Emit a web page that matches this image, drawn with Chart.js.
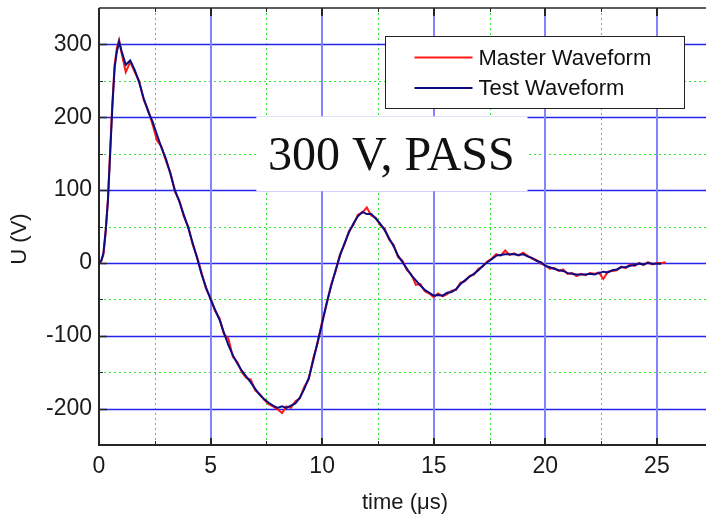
<!DOCTYPE html>
<html>
<head>
<meta charset="utf-8">
<script src="https://cdn.jsdelivr.net/npm/chart.js@4.4.0/dist/chart.umd.min.js"></script>
<style>
  body { margin: 0; background: #fff; }
</style>
</head>
<body>
<canvas id="myChart" width="706" height="516"></canvas>
<script>
// time axis (microseconds)
var timeUs = [
  0, 0.1, 0.2, 0.3, 0.4, 0.5, 0.6, 0.7, 0.8, 0.9, 1.0,
  1.2, 1.4, 1.6, 1.8, 2, 2.2, 2.4, 2.6, 2.8, 3,
  3.2, 3.4, 3.6, 3.8, 4, 4.2, 4.4, 4.6, 4.8, 5,
  5.2, 5.4, 5.6, 5.8, 6, 6.2, 6.4, 6.6, 6.8, 7,
  7.2, 7.4, 7.6, 7.8, 8, 8.2, 8.4, 8.6, 8.8, 9,
  9.2, 9.4, 9.6, 9.8, 10, 10.2, 10.4, 10.6, 10.8, 11,
  11.2, 11.4, 11.6, 11.8, 12, 12.2, 12.4, 12.6, 12.8, 13,
  13.2, 13.4, 13.6, 13.8, 14, 14.2, 14.4, 14.6, 14.8, 15,
  15.2, 15.4, 15.6, 15.8, 16, 16.2, 16.4, 16.6, 16.8, 17,
  17.2, 17.4, 17.6, 17.8, 18, 18.2, 18.4, 18.6, 18.8, 19,
  19.2, 19.4, 19.6, 19.8, 20, 20.2, 20.4, 20.6, 20.8, 21,
  21.2, 21.4, 21.6, 21.8, 22, 22.2, 22.4, 22.6, 22.8, 23,
  23.2, 23.4, 23.6, 23.8, 24, 24.2, 24.4, 24.6, 24.8, 25,
  25.2, 25.4
];

// U (V)
var masterU = [
  0, 2, 12, 42, 88, 155, 220, 272, 295, 306, 290,
  262, 276, 262, 250, 224, 210, 190, 168, 160, 140,
  124, 98, 86, 64, 50, 25, 8, -14, -36, -48,
  -66, -76, -98, -104, -129, -136, -150, -158, -160, -175,
  -180, -188, -194, -197, -201, -206, -197, -199, -190, -186,
  -170, -160, -131, -110, -80, -57, -30, -12, 12, 25,
  44, 52, 66, 69, 76, 65, 62, 52, 47, 32,
  25, 8, 3, -10, -16, -30, -29, -39, -42, -47,
  -42, -46, -43, -38, -37, -27, -25, -18, -16, -8,
  -5, 2, 6, 12, 10, 17, 11, 13, 10, 14,
  10, 6, 4, -1, -3, -8, -7, -11, -9, -15,
  -14, -18, -15, -17, -14, -15, -13, -22, -12, -11,
  -10, -5, -7, -2, -4, 0, -3, 1, -2, 0,
  0, 1
];

var testU = [
  0, 3, 14, 45, 85, 150, 215, 268, 290, 304, 292,
  272, 278, 265, 248, 226, 208, 194, 176, 158, 143,
  122, 100, 84, 66, 48, 27, 6, -16, -34, -50,
  -64, -78, -96, -113, -127, -138, -148, -156, -164, -173,
  -181, -187, -192, -196, -199, -197, -199, -196, -193, -185,
  -173, -158, -134, -108, -83, -55, -32, -10, 10, 27,
  42, 54, 64, 70, 67, 67, 61, 54, 45, 34,
  23, 10, 1, -8, -17, -24, -31, -37, -41, -45,
  -44, -45, -41, -40, -36, -29, -24, -19, -15, -10,
  -4, 1, 5, 10, 11, 12, 12, 12, 11, 12,
  9, 7, 3, 1, -4, -6, -8, -10, -11, -14,
  -15, -16, -16, -16, -15, -16, -14, -12, -13, -10,
  -9, -6, -6, -4, -3, -1, -2, 0, -1, -1,
  -1, null
];

var seriesNames = ['Master Waveform', 'Test Waveform'];
var xTicks = [0, 5, 10, 15, 20, 25];
var xMinor = [2.5, 7.5, 12.5, 17.5, 22.5];
var yTicks = [-200, -100, 0, 100, 200, 300];
var yMinor = [-150, -50, 50, 150, 250];
var noteText = '300 V, PASS';

var sans = 'Liberation Sans, Arial, sans-serif';

function toPoints(vals) {
  var pts = [];
  for (var i = 0; i < timeUs.length; i++) {
    if (vals[i] !== null) pts.push({x: timeUs[i], y: vals[i]});
  }
  return pts;
}

function seg(ctx, x0, y0, x1, y1) {
  ctx.beginPath();
  ctx.moveTo(x0, y0);
  ctx.lineTo(x1, y1);
  ctx.stroke();
}

var frame = {
  id: 'frame',
  beforeDatasetsDraw: function(chart) {
    var ctx = chart.ctx, a = chart.chartArea, x = chart.scales.x, y = chart.scales.y;
    ctx.save();
    // dotted minor grid
    ctx.strokeStyle = '#2ee82e';
    ctx.lineWidth = 1;
    ctx.setLineDash([2, 3]);
    xMinor.forEach(function(v) {
      var px = Math.round(x.getPixelForValue(v)) + 0.5;
      seg(ctx, px, a.top, px, a.bottom);
    });
    yMinor.forEach(function(v) {
      var py = Math.round(y.getPixelForValue(v)) + 0.5;
      seg(ctx, a.left, py, a.right, py);
    });
    ctx.setLineDash([]);
    // major grid
    ctx.strokeStyle = '#2424ee';
    ctx.lineWidth = 1.3;
    yTicks.forEach(function(v) {
      var py = Math.round(y.getPixelForValue(v)) + 0.5;
      seg(ctx, a.left, py, a.right, py);
    });
    ctx.strokeStyle = '#8484ff';
    ctx.lineWidth = 2;
    xTicks.forEach(function(v) {
      if (v === 0) return;
      var px = Math.round(x.getPixelForValue(v));
      seg(ctx, px, a.top, px, a.bottom);
    });
    ctx.restore();
  },
  afterDatasetsDraw: function(chart) {
    var ctx = chart.ctx, a = chart.chartArea, x = chart.scales.x, y = chart.scales.y;
    ctx.save();
    // note with white background
    var bx0 = x.getPixelForValue(7.05), bx1 = x.getPixelForValue(19.2);
    var by0 = y.getPixelForValue(201), by1 = y.getPixelForValue(98.5);
    ctx.fillStyle = '#fff';
    ctx.fillRect(bx0, by0, bx1 - bx0, by1 - by0);
    ctx.fillStyle = '#111';
    ctx.font = '48px "Liberation Serif", "Times New Roman", serif';
    ctx.textAlign = 'center';
    ctx.textBaseline = 'alphabetic';
    ctx.fillText(noteText, x.getPixelForValue(13.1), y.getPixelForValue(128));

    // axes
    ctx.strokeStyle = '#262626';
    ctx.lineWidth = 2;
    seg(ctx, a.left, a.top, a.left, a.bottom + 1);
    seg(ctx, a.left, a.bottom, a.right, a.bottom);
    ctx.lineWidth = 1.5;
    seg(ctx, a.left, a.top, a.right, a.top);
    // ticks
    xTicks.forEach(function(v) {
      var px = Math.round(x.getPixelForValue(v));
      ctx.lineWidth = 2;
      seg(ctx, px, a.bottom, px, a.bottom - 7);
      seg(ctx, px, a.top, px, a.top + 8);
    });
    xMinor.forEach(function(v) {
      var px = Math.round(x.getPixelForValue(v)) + 0.5;
      ctx.lineWidth = 1;
      seg(ctx, px, a.bottom, px, a.bottom - 4);
      seg(ctx, px, a.top, px, a.top + 4);
    });
    yTicks.forEach(function(v) {
      var py = Math.round(y.getPixelForValue(v)) + 0.5;
      ctx.lineWidth = 1.5;
      seg(ctx, a.left, py, a.left + 8, py);
    });
    yMinor.forEach(function(v) {
      var py = Math.round(y.getPixelForValue(v)) + 0.5;
      ctx.lineWidth = 1;
      seg(ctx, a.left, py, a.left + 4, py);
    });

    // legend
    var lx = a.left + 286.5, ly = a.top + 28.5, lw = 299, lh = 72;
    ctx.fillStyle = '#fff';
    ctx.fillRect(lx, ly, lw, lh);
    ctx.strokeStyle = '#222';
    ctx.lineWidth = 1;
    ctx.strokeRect(lx, ly, lw, lh);
    ctx.font = '22px ' + sans;
    ctx.textAlign = 'left';
    ctx.textBaseline = 'middle';
    chart.data.datasets.forEach(function(ds, i) {
      var rowY = ly + 21 + i * 30.5;
      ctx.strokeStyle = ds.borderColor;
      ctx.lineWidth = 2;
      seg(ctx, lx + 29, rowY, lx + 87, rowY);
      ctx.fillStyle = '#111';
      ctx.fillText(ds.label, lx + 93, rowY + 1);
    });

    // axis titles
    ctx.fillStyle = '#1a1a1a';
    ctx.font = '22px ' + sans;
    ctx.textAlign = 'center';
    ctx.textBaseline = 'middle';
    ctx.fillText('time (\u03bcs)', 405, 503);
    ctx.translate(20, 239);
    ctx.rotate(-Math.PI / 2);
    ctx.fillText('U (V)', 0, 0);
    ctx.restore();
  }
};

var ctx = document.getElementById('myChart').getContext('2d');
var myChart = new Chart(ctx, {
  type: 'line',
  data: {
    datasets: [{
      label: seriesNames[0],
      data: toPoints(masterU),
      borderColor: '#ff1818',
      borderWidth: 2,
      pointRadius: 0,
      order: 1
    }, {
      label: seriesNames[1],
      data: toPoints(testU),
      borderColor: '#0c0c82',
      borderWidth: 2,
      pointRadius: 0,
      order: 0
    }]
  },
  options: {
    responsive: false,
    animation: false,
    layout: { padding: { left: 0, top: 8, right: 0, bottom: 0 } },
    plugins: { legend: { display: false }, tooltip: { enabled: false } },
    scales: {
      x: {
        type: 'linear',
        min: 0,
        max: 27.2,
        grid: { display: false, drawTicks: false },
        border: { display: false },
        afterBuildTicks: function(s) { s.ticks = xTicks.map(function(v) { return {value: v}; }); },
        afterFit: function(s) { s.height = 71; s.paddingLeft = 0; s.paddingRight = 0; },
        ticks: { font: { family: sans, size: 23 }, color: '#1a1a1a', padding: 8, maxRotation: 0 }
      },
      y: {
        min: -250,
        max: 350,
        grid: { display: false, drawTicks: false },
        border: { display: false },
        afterBuildTicks: function(s) { s.ticks = yTicks.map(function(v) { return {value: v}; }); },
        afterFit: function(s) { s.width = 99; s.paddingTop = 0; s.paddingBottom = 0; },
        ticks: { font: { family: sans, size: 23 }, color: '#1a1a1a', padding: 7 }
      }
    }
  },
  plugins: [frame]
});
</script>
</body>
</html>
